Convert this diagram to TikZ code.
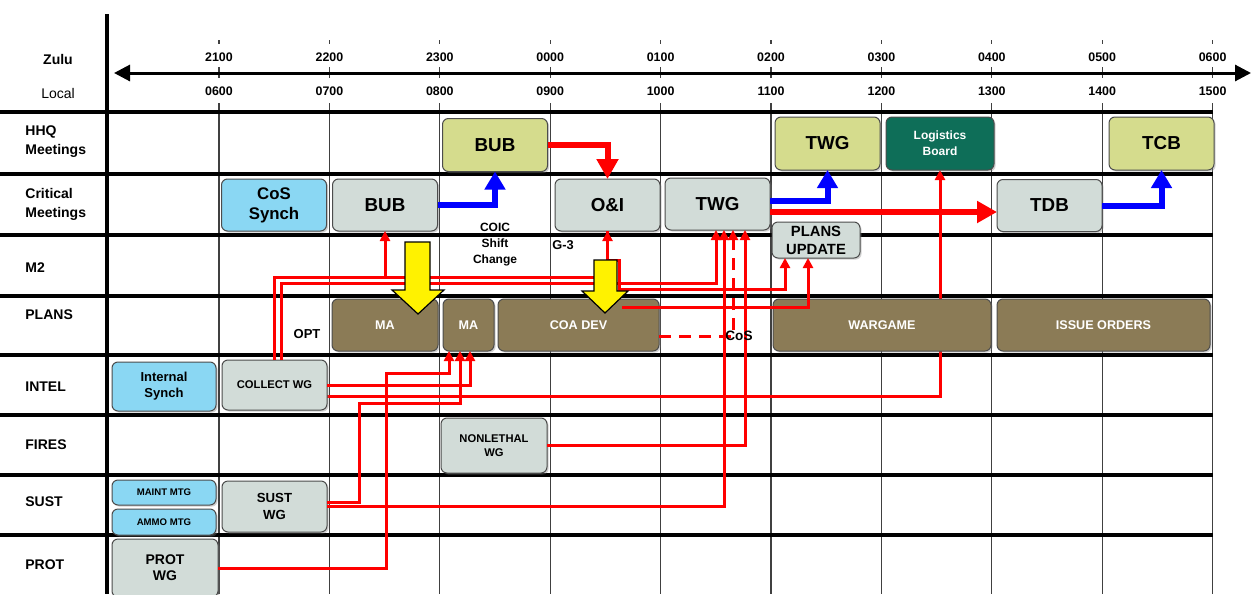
\documentclass[tikz,border=0pt]{standalone}
\usepackage{fontspec}
\setmainfont{Liberation Sans}
\usetikzlibrary{arrows.meta,shadows}
\pgfdeclarelayer{grid}
\pgfdeclarelayer{behind}
\pgfsetlayers{grid,behind,main}
\definecolor{hhqolive}{RGB}{213,220,141}
\definecolor{loggreen}{RGB}{14,110,88}
\definecolor{synchblue}{RGB}{138,215,243}
\definecolor{meetgray}{RGB}{210,220,216}
\definecolor{planbrown}{RGB}{139,123,86}
\tikzset{
    rhythmbox/.style={draw=black!70, line width=0.5pt, rounded corners=3pt, align=center, inner sep=0pt, outer sep=0pt,
        drop shadow={shadow xshift=0.8pt, shadow yshift=-0.8pt, opacity=0.35}},
    rhythmhhq/.style={rhythmbox, fill=hhqolive, minimum width=52.5pt, minimum height=26.5pt, font=\bfseries\fontsize{9.4}{11}\selectfont},
    rhythmlog/.style={rhythmbox, fill=loggreen, text=white, minimum width=54pt, minimum height=26.5pt, font=\bfseries\fontsize{6}{8}\selectfont},
    rhythmcrit/.style={rhythmbox, fill=meetgray, minimum width=52.5pt, minimum height=26pt, font=\bfseries\fontsize{9.4}{11}\selectfont},
    rhythmwg/.style={rhythmbox, fill=meetgray, minimum width=52.5pt, minimum height=25pt, font=\bfseries\fontsize{5.6}{7}\selectfont},
    rhythmsynch/.style={rhythmbox, fill=synchblue, minimum width=52pt, minimum height=24.5pt, font=\bfseries\fontsize{6.5}{8}\selectfont},
    rhythmplan/.style={rhythmbox, fill=planbrown, text=white, minimum height=26pt, font=\bfseries\fontsize{6.3}{8}\selectfont},
    rhythmrowlabel/.style={anchor=west, align=left, inner sep=0pt, font=\bfseries\fontsize{7}{9.5}\selectfont},
    rhythmtime/.style={inner sep=0pt, font=\bfseries\fontsize{6.2}{7}\selectfont},
    rhythmnote/.style={inner sep=0pt, align=center, font=\bfseries\fontsize{6}{8}\selectfont},
    rhythmred/.style={draw=red, line width=1.5pt, -{Triangle[width=5pt,length=5pt]}},
    rhythmredthick/.style={draw=red, line width=3pt, -{Triangle[width=10.5pt,length=10pt]}},
    rhythmbluearrow/.style={draw=blue, line width=3pt, -{Triangle[width=10pt,length=9pt]}},
    rhythmyellow/.style={fill=yellow, draw=black, line width=0.6pt, line join=miter},
    rhythmrule/.style={draw=black, line width=1.8pt},
    rhythmcol/.style={draw=black!75, line width=0.6pt},
    rhythmtick/.style={draw=black!75, line width=0.6pt}
}
\begin{document}
\begin{tikzpicture}[x=0.5pt, y=-0.5pt]
    \clip (0,0) rectangle (1252,594);
    % grid
    \begin{pgfonlayer}{grid}
        \fill[white] (0,0) rectangle (1252,594);
        \foreach \i in {0,...,9} {
            \draw[rhythmcol] ({219+110.4*\i},103) -- ({219+110.4*\i},594);
            \draw[rhythmtick] ({219+110.4*\i},40) -- ++(0,4);
            \draw[rhythmtick] ({219+110.4*\i},67) -- ++(0,11);
        }
        \foreach \y in {112,174,235,296,355,415,475,535}
            \draw[rhythmrule] (0,\y) -- (1212.6,\y);
        \draw[line width=1.6pt] (107,14) -- (107,594);
    \end{pgfonlayer}
    % time axis
    \draw[line width=1.5pt, {Triangle[width=8pt,length=8pt]}-{Triangle[width=8pt,length=8pt]}] (114,73) -- (1251,73);
    \node[font=\bfseries\fontsize{7}{8}\selectfont, inner sep=0pt] (zulu) at (58,59) {Zulu};
    \node[font=\fontsize{7}{8}\selectfont, inner sep=0pt] (local) at (58,93) {Local};
    \foreach \z/\l [count=\i from 0] in {2100/0600,2200/0700,2300/0800,0000/0900,0100/1000,0200/1100,0300/1200,0400/1300,0500/1400,0600/1500} {
        \node[rhythmtime] (z\i) at ({219+110.4*\i},57) {\z};
        \node[rhythmtime] (l\i) at ({219+110.4*\i},91) {\l};
    }
    % row labels
    \node[rhythmrowlabel] (rowhhq) at (25,142) {HHQ\\Meetings};
    \node[rhythmrowlabel] (rowcrit) at (25,204) {Critical\\Meetings};
    \node[rhythmrowlabel] (rowm) at (25,268) {M2};
    \node[rhythmrowlabel] (rowplans) at (25,315) {PLANS};
    \node[rhythmrowlabel] (rowintel) at (25,387) {INTEL};
    \node[rhythmrowlabel] (rowfires) at (25,445) {FIRES};
    \node[rhythmrowlabel] (rowsust) at (25,502) {SUST};
    \node[rhythmrowlabel] (rowprot) at (25,565) {PROT};
    % meetings
    \node[rhythmhhq] (bubhhq) at (495,145) {BUB};
    \node[rhythmhhq] (twghhq) at (827.5,143.5) {TWG};
    \node[rhythmlog] (logboard) at (940,143.5) {Logistics\\Board};
    \node[rhythmhhq] (tcb) at (1161.5,143.5) {TCB};
    \node[rhythmcrit, fill=synchblue, font=\bfseries\fontsize{8.4}{10}\selectfont] (cossynch) at (274,205) {CoS\\Synch};
    \node[rhythmcrit] (bubcrit) at (385,205) {BUB};
    \node[rhythmcrit] (oi) at (607.5,205) {O\&I};
    \node[rhythmcrit] (twgcrit) at (717.5,204) {TWG};
    \node[rhythmcrit] (tdb) at (1049.5,205.5) {TDB};
    \node[rhythmcrit, minimum width=44pt, minimum height=18pt, font=\bfseries\fontsize{7.4}{9}\selectfont] (plansupd) at (816,240) {PLANS\\UPDATE};
    \node[rhythmplan, minimum width=53pt] (ma) at (385,325) {MA};
    \node[rhythmplan, minimum width=25.5pt] (masmall) at (468.5,325) {MA};
    \node[rhythmplan, minimum width=80.5pt] (coadev) at (578.5,325) {COA DEV};
    \node[rhythmplan, minimum width=109pt] (wargame) at (882,325) {WARGAME};
    \node[rhythmplan, minimum width=106.5pt] (issue) at (1103.5,325) {ISSUE ORDERS};
    \node[rhythmsynch] (intsynch) at (164,386.5) {Internal\\Synch};
    \node[rhythmwg] (collect) at (274.5,385) {COLLECT WG};
    \node[rhythmwg, minimum width=53pt, minimum height=27.5pt] (nonlethal) at (494,445.5) {NONLETHAL\\WG};
    \node[rhythmsynch, minimum height=12.5pt, font=\bfseries\fontsize{4.8}{6}\selectfont] (maint) at (164,492.5) {MAINT MTG};
    \node[rhythmsynch, minimum height=13pt, font=\bfseries\fontsize{4.8}{6}\selectfont] (ammo) at (164,522) {AMMO MTG};
    \node[rhythmwg, minimum height=25.5pt, font=\bfseries\fontsize{6.6}{8.5}\selectfont] (sustwg) at (274.5,506.5) {SUST\\WG};
    \node[rhythmwg, minimum width=53pt, minimum height=29pt, font=\bfseries\fontsize{7}{8}\selectfont] (protwg) at (165,568) {PROT\\WG};
    % notes
    \node[rhythmnote] (coic) at (495,245) {COIC\\Shift\\Change};
    \node[rhythmnote, anchor=west, font=\bfseries\fontsize{6.4}{8}\selectfont] (gthree) at (552,245) {G-3};
    \node[rhythmnote, font=\bfseries\fontsize{6.5}{8}\selectfont] (opt) at (307,334) {OPT};
    % connectors
    \begin{pgfonlayer}{behind}
        \draw[rhythmred] ([yshift=-5.5pt]collect.east) -| (logboard.south);
    \end{pgfonlayer}
    \draw[rhythmred] (collect.north) -- ++(0,-83) -| (bubcrit.south);
    \draw[rhythmred] (collect.north) -- ++(0,-83) -| (oi.south);
    \draw[rhythmred] ([xshift=3.5pt]collect.north) -- ++(0,-77) -| ([xshift=-0.75pt]twgcrit.south);
    \coordinate (puin) at ([xshift=-15.5pt]plansupd.south);
    \draw[rhythmred] (oi.south) |- (619,260) |- (785,289) -- (puin);
    \coordinate (coaout) at (622,307);
    \draw[rhythmred] (coaout) -| ([xshift=-4pt]plansupd.south);
    \draw[rhythmred, dash pattern=on 6pt off 4pt] ([yshift=-5.5pt]coadev.east) -| ([xshift=7.75pt]twgcrit.south);
    \draw[rhythmred] (sustwg.east) -| ([xshift=3.25pt]twgcrit.south);
    \draw[rhythmred] (nonlethal.east) -| ([xshift=13.75pt]twgcrit.south);
    \draw[rhythmred] (protwg.east) -| (386,373) -| ([xshift=-9.75pt]masmall.south);
    \draw[rhythmred] ([yshift=2.25pt]sustwg.east) -| (359,403) -| ([xshift=-4.25pt]masmall.south);
    \draw[rhythmred] (collect.east) -| ([xshift=0.75pt]masmall.south);
    \node[rhythmnote, font=\bfseries\fontsize{6.8}{8}\selectfont] (cos) at (739,336) {CoS};
    \draw[rhythmbluearrow] (bubcrit.east) -| (bubhhq.south);
    \draw[rhythmbluearrow] ([yshift=1.5pt]twgcrit.east) -| (twghhq.south);
    \draw[rhythmbluearrow] (tdb.east) -| (tcb.south);
    \draw[rhythmredthick] (bubhhq.east) -| (oi.north);
    \draw[rhythmredthick] ([yshift=-4pt]twgcrit.east) -- ([yshift=-3.25pt]tdb.west);
    % yellow arrows
    \draw[rhythmyellow] (405,242) -- (430,242) -- (430,290) -- (444,290) -- (418,314) -- (392,290) -- (405,290) -- cycle;
    \draw[rhythmyellow] (594,260) -- (617,260) -- (617,291) -- (628,291) -- (605,313) -- (582,291) -- (594,291) -- cycle;
\end{tikzpicture}
\end{document}
